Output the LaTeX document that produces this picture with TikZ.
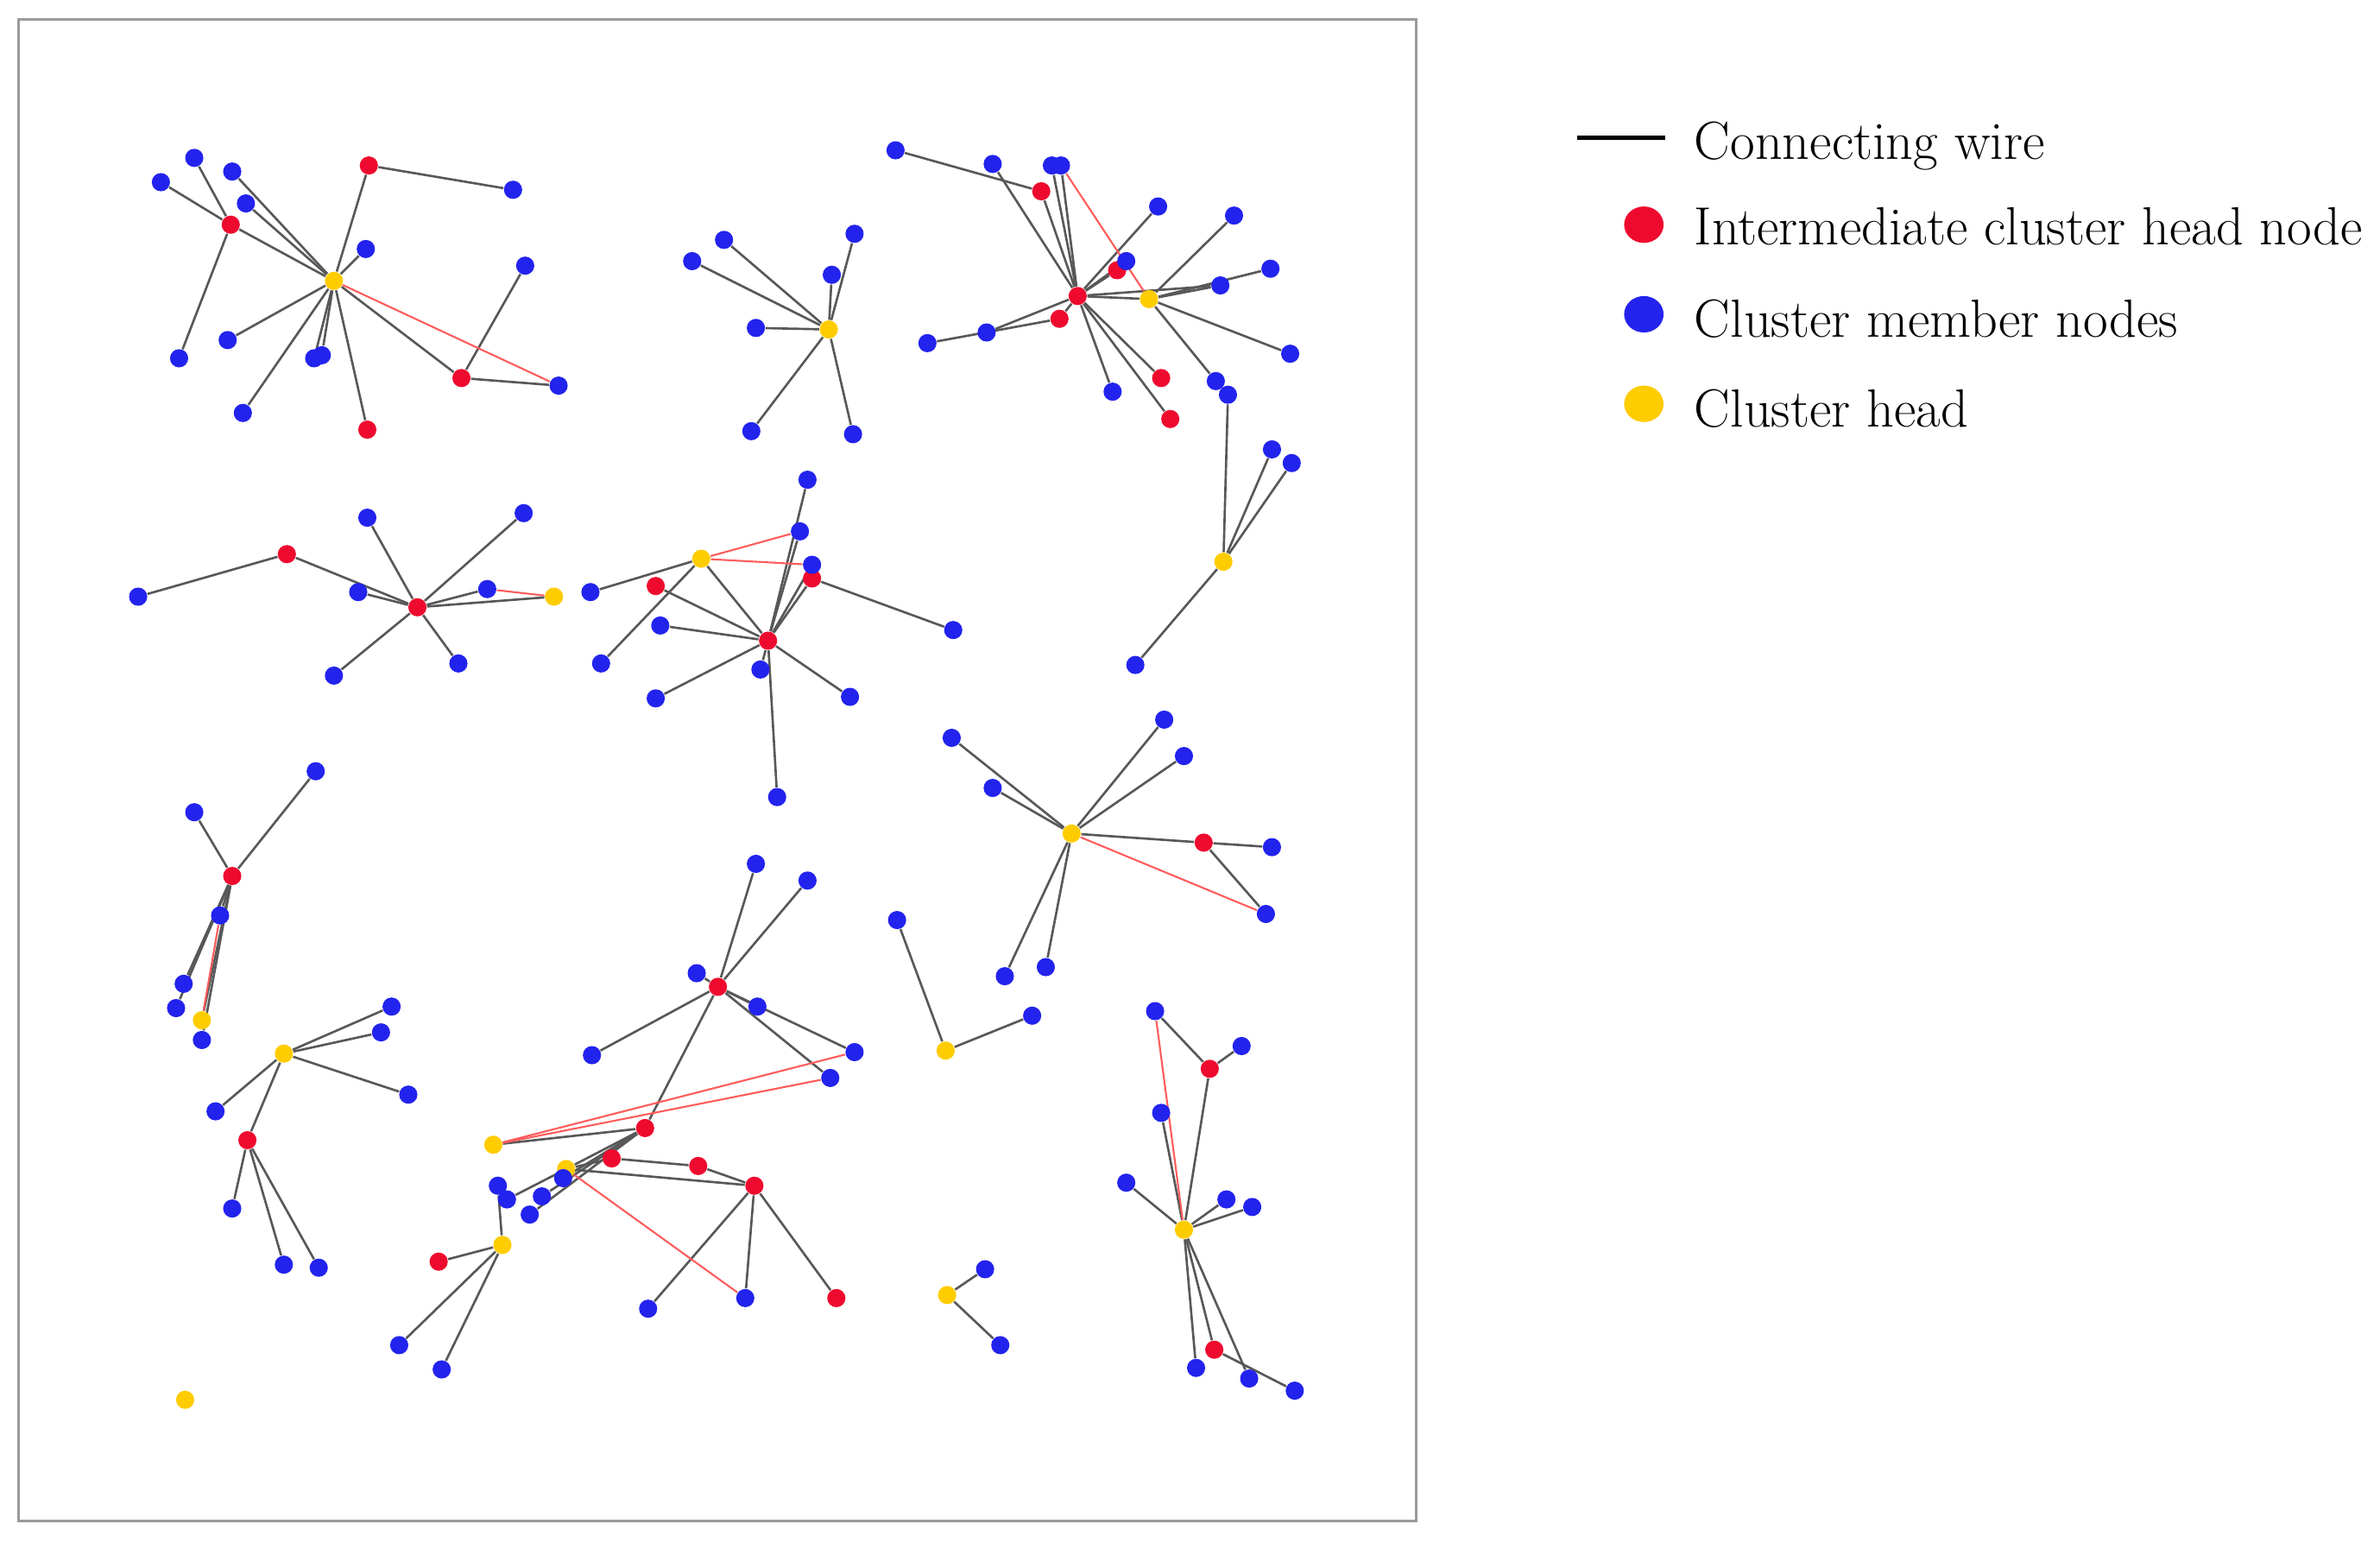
\documentclass[tikz,border=0pt]{standalone}
\usetikzlibrary{shapes.geometric}
\definecolor{nred}{HTML}{EE0A2E}
\definecolor{nblue}{HTML}{2323EE}
\definecolor{nyel}{HTML}{FFCC00}
\definecolor{wgray}{HTML}{585858}
\definecolor{wred}{HTML}{FF5C5C}
\definecolor{framec}{HTML}{9A9A9A}
\pgfdeclarelayer{bg}
\pgfsetlayers{bg,main}
\begin{document}
\begin{tikzpicture}[x=0.5pt,y=-0.5pt,
  dotc/.style={circle,inner sep=0pt,minimum size=6pt},
  nR/.style={dotc,fill=nred},
  nB/.style={dotc,fill=nblue},
  nY/.style={dotc,fill=nyel},
  wire/.style={draw=wgray,line width=0.75pt},
  rwire/.style={draw=wred,line width=0.6pt},
  legdot/.style={ellipse,inner sep=0pt,minimum width=13pt,minimum height=12pt},
  legtext/.style={anchor=base west,inner sep=0pt,font=\fontsize{17.7pt}{20pt}\selectfont}]
\useasboundingbox (0,0) rectangle (1568,1016);
\draw[framec,line width=0.9pt] (12,13) rectangle (933,1002);
% ---------- nodes ----------
% red (intermediate cluster heads)
\foreach \n/\x/\y in {a1/152/148,a7/243/109,a14/242/283,a15/304/249,
  b0/275/400,b1/189/365,
  d0/710/195,d6/686/126,d10/736/178,d13/698/210,d17/765/249,d21/771/276,
  f0/506/422,f5/535/381,f6/432/386,
  g5/793/555,h0/153/577,i5/163/751,
  j0/473/650,j8/425/743,j10/403/763,j13/460/768,j14/497/781,j20/289/831,j25/551/855,
  m3/797/704,m8/800/889}
  \node[nR] (\n) at (\x,\y) {};
% yellow (cluster heads)
\foreach \n/\x/\y in {a0/220/185,b7/365/393,c0/546/217,d1/757/197,e0/806/370,
  f1/462/368,g0/706/549,h6/133/672,i0/187/694,z0/122/922,
  j9/325/754,j11/373/770,j19/331/820,k0/623/692,l0/624/853,m0/780/810}
  \node[nY] (\n) at (\x,\y) {};
% blue (cluster members)
\foreach \n/\x/\y in {a2/106/120,a3/128/104,a4/118/236,a5/153/113,a6/162/134,
  a8/338/125,a9/241/164,a10/150/224,a11/207/236,a12/212/234,a13/160/272,
  a16/346/175,a17/368/254,
  b2/91/393,b3/242/341,b4/345/338,b5/236/390,b6/321/388,b8/220/445,b9/302/437,
  c1/477/158,c2/456/172,c3/498/216,c4/548/181,c5/563/154,c6/495/284,c7/562/286,
  d2/590/99,d3/654/108,d4/693/109,d5/699/109,d7/763/136,d8/813/142,d9/742/172,
  d11/837/177,d12/804/188,d14/650/219,d15/611/226,d16/850/233,d18/733/258,
  d19/801/251,d20/809/260,
  e1/838/296,e2/851/305,e3/748/438,
  f2/532/316,f3/527/350,f4/535/372,f7/389/390,f8/435/412,f9/396/437,
  f10/501/441,f11/432/460,f12/560/459,f13/628/415,f14/512/525,
  g1/627/486,g2/654/519,g3/767/474,g4/780/498,g6/838/558,g7/834/602,
  g8/662/643,g9/689/637,
  h1/128/535,h2/208/508,h3/145/603,h4/121/648,h5/116/664,h7/133/685,
  i1/258/663,i2/251/680,i3/269/721,i4/142/732,i6/153/796,i7/187/833,i8/210/835,
  j1/498/569,j2/532/580,j3/459/641,j4/499/663,j5/390/695,j6/563/693,j7/547/710,
  j12/371/776,j15/328/781,j16/334/790,j17/357/788,j18/349/800,
  j21/263/886,j22/291/902,j23/427/862,j24/491/855,
  k1/591/606,k2/680/669,l1/649/836,l2/659/886,
  m1/761/666,m2/818/689,m4/765/733,m5/742/779,m6/808/790,m7/825/795,
  m9/788/901,m10/823/908,m11/853/916}
  \node[nB] (\n) at (\x,\y) {};
% ---------- connecting wires ----------
\begin{pgfonlayer}{bg}
\foreach \a/\b in {a1/a2,a1/a3,a1/a0,a1/a4,a5/a0,a6/a0,a7/a0,a7/a8,a9/a0,
  a10/a0,a11/a0,a12/a0,a13/a0,a14/a0,a15/a0,a15/a16,a15/a17,
  b2/b1,b1/b0,b5/b0,b3/b0,b4/b0,b6/b0,b7/b0,b8/b0,b9/b0,
  c0/c1,c0/c2,c0/c3,c0/c4,c0/c5,c0/c6,c0/c7,
  d2/d6,d6/d0,d3/d0,d4/d0,d5/d0,d7/d0,d9/d0,d10/d0,d0/d1,d0/d12,
  d8/d1,d11/d1,d12/d1,d16/d1,d19/d1,d15/d13,d14/d0,d13/d0,d18/d0,d17/d0,d21/d0,
  e0/d20,e0/e1,e0/e2,e0/e3,
  f1/f7,f1/f9,f1/f0,f6/f0,f8/f0,f11/f0,f10/f0,f12/f0,f14/f0,f2/f0,f3/f0,
  f4/f0,f5/f0,f5/f13,
  g0/g1,g0/g2,g0/g3,g0/g4,g0/g5,g5/g6,g5/g7,g0/g8,g0/g9,
  h0/h1,h0/h2,h0/h3,h0/h4,h0/h5,h0/h6,h0/h7,
  i0/i1,i0/i2,i0/i3,i0/i4,i0/i5,i5/i6,i5/i7,i5/i8,
  j0/j1,j0/j2,j0/j3,j0/j4,j0/j5,j0/j6,j0/j7,j0/j8,j9/j8,
  j11/j8,j12/j8,j17/j8,j18/j8,j16/j11,j11/j10,j10/j13,j13/j14,j11/j14,
  j14/j23,j14/j24,j14/j25,j15/j19,j19/j20,j19/j21,j19/j22,
  k0/k1,k0/k2,l0/l1,l0/l2,
  m1/m3,m3/m2,m3/m0,m4/m0,m5/m0,m6/m0,m7/m0,m9/m0,m8/m0,m10/m0,m8/m11}
  \draw[wire] (\a) -- (\b);
\foreach \a/\b in {a0/a17,b6/b7,d5/d1,f1/f3,f1/f4,g0/g7,h3/h6,
  j9/j6,j9/j7,j11/j24,m1/m0}
  \draw[rwire] (\a) -- (\b);
\end{pgfonlayer}
% ---------- legend ----------
\coordinate (lw1) at (1039,90.5);
\coordinate (lw2) at (1097,90.5);
\draw[black,line width=1.4pt] (lw1) -- (lw2);
\node[legtext] (t1) at (1116,105) {Connecting wire};
\node[legdot,fill=nred] (ld1) at (1083,148) {};
\node[legtext] (t2) at (1116,161) {Intermediate cluster head node};
\node[legdot,fill=nblue] (ld2) at (1083,207) {};
\node[legtext] (t3) at (1116,222) {Cluster member nodes};
\node[legdot,fill=nyel] (ld3) at (1083,266) {};
\node[legtext] (t4) at (1116,281) {Cluster head};
\end{tikzpicture}
\end{document}
